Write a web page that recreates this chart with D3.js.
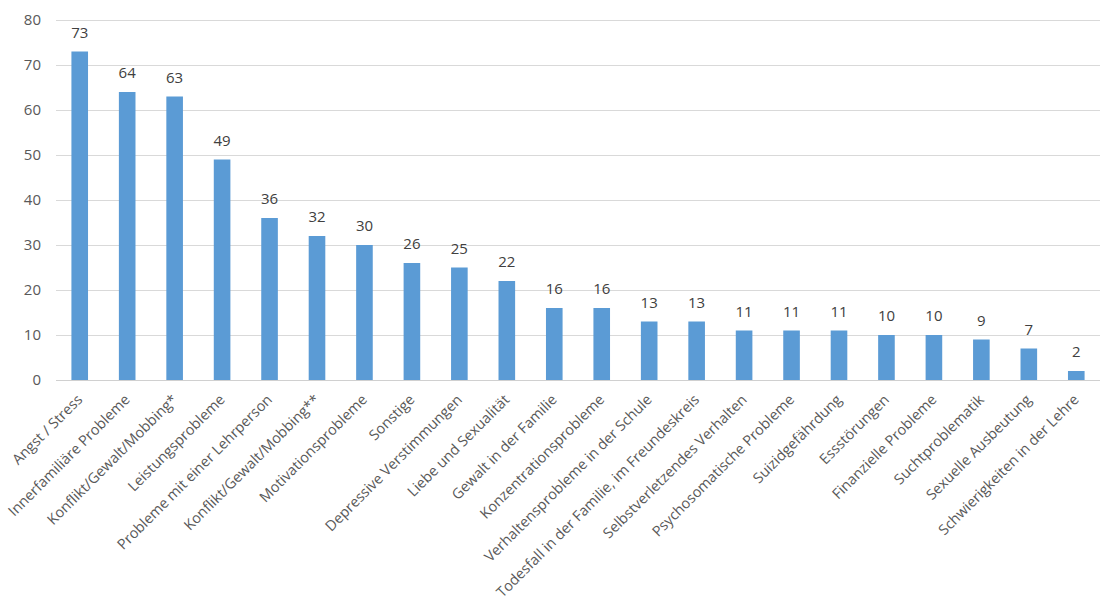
<!DOCTYPE html>
<html><head><meta charset="utf-8">
<script src="https://cdn.jsdelivr.net/npm/d3@7"></script>
<style>body{margin:0;background:#fff}</style>
</head><body>
<svg id="c" width="1114" height="605"></svg>
<script>
const categories = ["Angst / Stress","Innerfamiliäre Probleme","Konflikt/Gewalt/Mobbing*","Leistungsprobleme","Probleme mit einer Lehrperson","Konflikt/Gewalt/Mobbing**","Motivationsprobleme","Sonstige","Depressive Verstimmungen","Liebe und Sexualität","Gewalt in der Familie","Konzentrationsprobleme","Verhaltensprobleme in der Schule","Todesfall in der Familie, im Freundeskreis","Selbstverletzendes Verhalten","Psychosomatische Probleme","Suizidgefährdung","Essstörungen","Finanzielle Probleme","Suchtproblematik","Sexuelle Ausbeutung","Schwierigkeiten in der Lehre"];
const values = [73,64,63,49,36,32,30,26,25,22,16,16,13,13,11,11,11,10,10,9,7,2];
const yTicks = [0,10,20,30,40,50,60,70,80];

(function(){
const svg = d3.select("#c");
const mL = 56, mR = 1100, mT = 20, mB = 380;
const x = d3.scaleBand().domain(categories).range([mL, mR]).paddingInner(0.65).paddingOuter(0.325);
const y = d3.scaleLinear().domain([0, 80]).range([mB, mT]);
const font = "'Open Sans', 'Liberation Sans', sans-serif";

svg.append("g").selectAll("line").data(yTicks).join("line")
  .attr("x1", mL).attr("x2", mR)
  .attr("y1", d => y(d) + 0.5).attr("y2", d => y(d) + 0.5)
  .attr("stroke", d => d === 0 ? "#d0d0d0" : "#d9d9d9").attr("stroke-width", 1);

const yAxis = d3.axisLeft(y).tickValues(yTicks).tickSize(0).tickPadding(0);
const gy = svg.append("g").attr("transform", "translate(41,0)").call(yAxis);
gy.select(".domain").remove();
gy.selectAll("text").attr("font-family", font).attr("font-size", 15).attr("fill", "#595959");

svg.append("g").selectAll("rect").data(values).join("rect")
  .attr("x", (d, i) => x(categories[i]))
  .attr("width", x.bandwidth())
  .attr("y", d => y(d))
  .attr("height", d => y(0) - y(d))
  .attr("fill", "#5b9bd5");

svg.append("g").selectAll("text").data(values).join("text")
  .attr("x", (d, i) => x(categories[i]) + x.bandwidth() / 2)
  .attr("y", d => y(d) - 14)
  .attr("text-anchor", "middle")
  .attr("font-family", font).attr("font-size", 15).attr("fill", "#404040")
  .text(d => d);

const xAxis = d3.axisBottom(x).tickSize(0).tickPadding(0);
const gx = svg.append("g").attr("transform", `translate(0,${mB})`).call(xAxis);
gx.select(".domain").remove();
gx.selectAll("text")
  .attr("font-family", font).attr("font-size", 14.5).attr("fill", "#595959")
  .attr("text-anchor", "end")
  .attr("dy", "0.35em")
  .attr("transform", "translate(0,17) rotate(-45)")
  .attr("y", 0).attr("x", 0);
})();
</script>
</body></html>
